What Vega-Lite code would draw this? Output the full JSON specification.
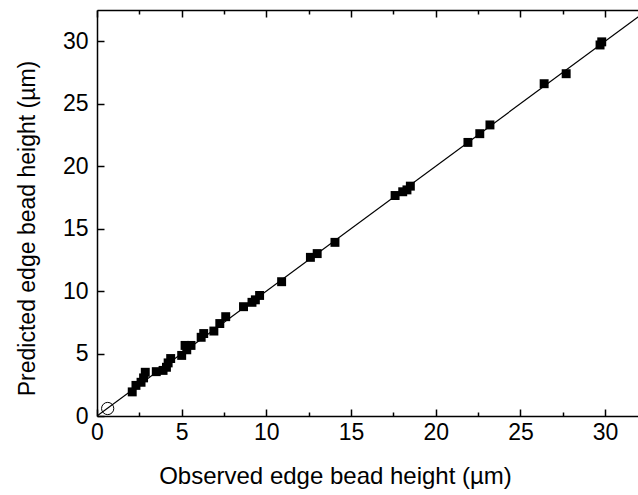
{
  "$schema": "https://vega.github.io/schema/vega-lite/v6.json",
  "width": 542,
  "height": 406,
  "autosize": "none",
  "padding": {"left": 97, "top": 10, "right": 0, "bottom": 79},
  "background": "white",
  "config": {
    "view": {"stroke": null},
    "font": "Liberation Sans",
    "axis": {
      "domainColor": "black", "domainWidth": 1.5, "tickColor": "black", "tickWidth": 1.5,
      "labelFont": "Liberation Sans", "labelFontSize": 23, "labelColor": "black",
      "titleFont": "Liberation Sans", "titleFontSize": 23, "titleFontWeight": "normal", "titleColor": "black",
      "grid": false
    }
  },
  "datasets": {
    "pts": [
      {"obs": 2.08, "pred": 1.93}, {"obs": 2.3, "pred": 2.45}, {"obs": 2.6, "pred": 2.7},
      {"obs": 2.75, "pred": 3.05}, {"obs": 2.85, "pred": 3.5}, {"obs": 3.5, "pred": 3.55},
      {"obs": 3.9, "pred": 3.65}, {"obs": 4.1, "pred": 3.9}, {"obs": 4.2, "pred": 4.25},
      {"obs": 4.35, "pred": 4.6}, {"obs": 5.0, "pred": 4.85}, {"obs": 5.2, "pred": 5.65},
      {"obs": 5.55, "pred": 5.65}, {"obs": 5.3, "pred": 5.3}, {"obs": 6.15, "pred": 6.3},
      {"obs": 6.3, "pred": 6.6}, {"obs": 6.9, "pred": 6.8}, {"obs": 7.25, "pred": 7.4},
      {"obs": 7.6, "pred": 7.95}, {"obs": 8.65, "pred": 8.75}, {"obs": 9.15, "pred": 9.1},
      {"obs": 9.35, "pred": 9.3}, {"obs": 9.6, "pred": 9.65}, {"obs": 10.9, "pred": 10.75},
      {"obs": 12.6, "pred": 12.7}, {"obs": 13.0, "pred": 13.0}, {"obs": 14.05, "pred": 13.9},
      {"obs": 17.6, "pred": 17.65}, {"obs": 18.05, "pred": 17.95}, {"obs": 18.3, "pred": 18.1},
      {"obs": 18.5, "pred": 18.4}, {"obs": 21.9, "pred": 21.9}, {"obs": 22.6, "pred": 22.6},
      {"obs": 23.2, "pred": 23.3}, {"obs": 26.4, "pred": 26.6}, {"obs": 27.7, "pred": 27.4},
      {"obs": 29.7, "pred": 29.7}, {"obs": 29.8, "pred": 29.95}
    ],
    "fit": [{"obs": 0, "pred": 0}, {"obs": 32.5, "pred": 32.5}],
    "origin": [{"obs": 0.63, "pred": 0.6}]
  },
  "layer": [
    {
      "data": {"name": "fit"},
      "mark": {"type": "line", "color": "black", "strokeWidth": 1.2, "clip": true},
      "encoding": {
        "x": {"field": "obs", "type": "quantitative", "scale": {"domain": [0, 32], "nice": false, "zero": false},
          "axis": {"orient": "bottom", "title": "Observed edge bead height (µm)",
            "values": [0, 2.5, 5, 7.5, 10, 12.5, 15, 17.5, 20, 22.5, 25, 27.5, 30],
            "labelExpr": "datum.value % 5 === 0 ? datum.label : ''",
            "tickSize": {"condition": {"test": "datum.value % 5 === 0", "value": -7}, "value": -4},
            "labelPadding": 12, "labelFlush": false, "titleFontSize": 24,
            "titleX": 238, "titleY": 67, "titleBaseline": "alphabetic", "titleAnchor": null}},
        "y": {"field": "pred", "type": "quantitative", "scale": {"domain": [0, 32.5], "nice": false, "zero": false},
          "axis": {"orient": "left", "title": "Predicted edge bead height (µm)",
            "values": [0, 2.5, 5, 7.5, 10, 12.5, 15, 17.5, 20, 22.5, 25, 27.5, 30],
            "labelExpr": "datum.value % 5 === 0 ? datum.label : ''",
            "tickSize": {"condition": {"test": "datum.value % 5 === 0", "value": -7}, "value": -4},
            "labelPadding": 16, "labelFlush": false,
            "titleX": -63, "titleY": 218, "titleAngle": -90, "titleBaseline": "alphabetic", "titleAlign": "center"}}
      }
    },
    {
      "data": {"name": "pts"},
      "mark": {"type": "point", "shape": "square", "filled": true, "color": "black", "opacity": 1, "size": 80},
      "encoding": {
        "x": {"field": "obs", "type": "quantitative",
          "axis": {"orient": "top", "title": null, "labels": false,
            "values": [0, 2.5, 5, 7.5, 10, 12.5, 15, 17.5, 20, 22.5, 25, 27.5, 30],
            "tickSize": {"condition": {"test": "datum.value % 5 === 0", "value": -7}, "value": -4}}},
        "y": {"field": "pred", "type": "quantitative"}
      }
    },
    {
      "data": {"name": "origin"},
      "mark": {"type": "point", "shape": "circle", "filled": false, "stroke": "black", "strokeWidth": 1, "opacity": 1, "size": 150},
      "encoding": {
        "x": {"field": "obs", "type": "quantitative", "axis": null},
        "y": {"field": "pred", "type": "quantitative"}
      }
    }
  ],
  "resolve": {"axis": {"x": "independent"}}
}
